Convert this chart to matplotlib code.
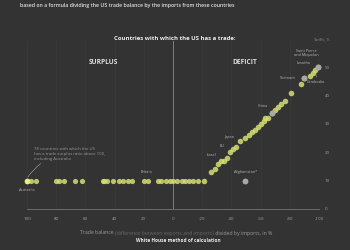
import matplotlib
matplotlib.use("Agg")
import matplotlib.pyplot as plt

plt.rcParams['font.family'] = ['Open Sans', 'DejaVu Sans']

# trade balance / imports (%) -> tariff (%)
surplus_x = [100, 97, 94, 80, 78, 75, 67, 62, 48, 47, 45, 41, 37, 34, 31, 28,
             20, 17, 10, 8, 5, 2, 0, -3, -6, -8, -11, -14, -17]
surplus_t = [10] * len(surplus_x)

deficit_x = [-21, -26, -29, -31, -33, -35, -37, -39, -41, -43, -46, -49, -52,
             -54, -56, -58, -60, -62, -63, -65, -68, -70, -72, -74, -77, -81,
             -88, -90, -94, -96, -97, -99]
deficit_t = [10, 13, 14, 16, 17, 17, 18, 20, 21, 22, 24, 25, 26,
             27, 28, 29, 30, 31, 32, 32, 34, 35, 36, 37, 38, 41,
             44, 46, 47, 48, 49, 50]

labels = ['Australia', 'Britain', 'Israel', 'EU', 'Japan', 'China', 'Vietnam',
          'Cambodia', 'Lesotho', 'Saint Pierre\nand Miquelon', 'Afghanistan*']
label_x = [100, 17, -35, -39, -46, -68, -90, -97, -99, -99, -49]
label_t = [10, 10, 17, 20, 24, 34, 46, 49, 50, 50, 10]

x_ticks = [100, 80, 60, 40, 20, 0, -20, -40, -60, -80, -100]
y_ticks = [0, 10, 20, 30, 40, 50]

BG = '#333333'
DOT = '#d6df72'
GREY = '#a8a8a8'

fig = plt.figure(figsize=(3.5, 2.5), dpi=100, facecolor=BG)
ax = fig.add_axes([27 / 350, 1 - 209 / 250, 292 / 350, 168 / 250])
ax.set_facecolor(BG)
ax.set_xlim(100, -100)
ax.set_ylim(0, 59.2)

for s in ['top', 'left', 'right']:
    ax.spines[s].set_visible(False)
ax.spines['bottom'].set_color('#777777')
ax.spines['bottom'].set_linewidth(0.6)

for xv in x_ticks:
    ax.axvline(xv, color='#3b3b3b', lw=0.5, zorder=0)
ax.axvline(0, color='#8a8a8a', lw=0.6, zorder=1)

ax.set_xticks(x_ticks)
ax.set_xticklabels([str(v) for v in x_ticks])
ax.set_yticks(y_ticks)
ax.yaxis.tick_right()
ax.tick_params(axis='x', length=0, pad=6, labelsize=3.2, labelcolor='#a0a0a0')
ax.tick_params(axis='y', length=0, pad=4, labelsize=3.2, labelcolor='#a0a0a0')

ax.scatter(surplus_x, surplus_t, s=14, color=DOT, alpha=0.85, lw=0,
           clip_on=False, zorder=3)
ax.scatter(deficit_x, deficit_t, s=16, color=DOT, alpha=0.85, lw=0,
           clip_on=False, zorder=3)
# highlighted
grey_names = ['China', 'Vietnam', 'Afghanistan*', 'Lesotho']
for name, xv, tv in zip(labels, label_x, label_t):
    if name in grey_names:
        ax.scatter([xv], [tv], s=18, color=GREY, lw=0, clip_on=False, zorder=4)
ax.scatter([100], [10], s=17, color='#e8f07a', lw=0, clip_on=False, zorder=4)

offsets = {
    'Australia': (0, -5, 'center', 'top'),
    'Britain': (-1, 5, 'center', 'bottom'),
    'Israel': (-9, 3, 'center', 'bottom'),
    'EU': (-6, 3, 'center', 'bottom'),
    'Japan': (-8, 1.5, 'center', 'bottom'),
    'China': (-7, 3, 'center', 'bottom'),
    'Vietnam': (-7, 0, 'right', 'center'),
    'Cambodia': (1, -7, 'center', 'top'),
    'Lesotho': (-10, 3, 'center', 'center'),
    'Saint Pierre\nand Miquelon': (-8, 10, 'center', 'center'),
    'Afghanistan*': (1, 5, 'center', 'bottom'),
}
for name, xv, tv in zip(labels, label_x, label_t):
    dx, dy, ha, va = offsets[name]
    ax.annotate(name, (xv, tv), xytext=(dx, dy), textcoords='offset points',
                ha=ha, va=va, fontsize=2.7, color='#bbbbbb', linespacing=1.0,
                annotation_clip=False, zorder=5)

# leader lines
ax.annotate('', xy=(-97.5, 48.5), xytext=(-98.5, 45.5),
            arrowprops=dict(arrowstyle='-', color='#999999', lw=0.4),
            annotation_clip=False)
ax.annotate('', xy=(-99.5, 51.5), xytext=(-99.5, 53.5),
            arrowprops=dict(arrowstyle='-', color='#999999', lw=0.4),
            annotation_clip=False)

ax.annotate('78 countries with which the US\nhas a trade surplus ratio above 100,\nincluding Australia',
            xy=(99.5, 11.2), xytext=(95, 17), ha='left', va='bottom',
            fontsize=3.1, color='#999999', linespacing=1.25,
            arrowprops=dict(arrowstyle='-', color='#aaaaaa', lw=0.4,
                            connectionstyle='arc3,rad=0.25',
                            shrinkA=0, shrinkB=0),
            annotation_clip=False)

ax.text(48, 51.5, 'SURPLUS', ha='center', va='center',
        fontsize=4.8, fontweight='bold', color='#dddddd')
ax.text(-49, 51.5, 'DEFICIT', ha='center', va='center',
        fontsize=4.8, fontweight='bold', color='#dddddd')

fig.text(175 / 350, 1 - 39 / 250, 'Countries with which the US has a trade:',
         ha='center', va='center', fontsize=4.3, fontweight='bold', color='#eeeeee')
fig.text(330 / 350, 1 - 39 / 250, 'Tariffs, %', ha='right', va='center',
         fontsize=2.9, color='#888888')

# first line sits mostly above the top edge, as in the source crop
fig.text(20 / 350, 1 + 2 / 250, 'The United States is applying a baseline 10% tariff, with the highest levels on 60 countries',
         ha='left', va='center', fontsize=3.8, color='#dddddd', fontweight='semibold')
fig.text(20 / 350, 1 - 6 / 250, 'based on a formula dividing the US trade balance by the imports from these countries',
         ha='left', va='center', fontsize=3.8, color='#dddddd', fontweight='semibold')

t1 = fig.text(80 / 350, 1 - 233 / 250, 'Trade balance ', ha='left', va='center',
              fontsize=3.7, color='#9a9a9a')
a2 = ax.annotate('(difference between exports and imports)', xy=(1, 0.5),
                 xycoords=t1, ha='left', va='center', fontsize=3.7, color='#666666')
ax.annotate(' divided by imports, in %', xy=(1, 0.5), xycoords=a2,
            ha='left', va='center', fontsize=3.7, color='#9a9a9a')
fig.text(178 / 350, 1 - 241 / 250, 'White House method of calculation',
         ha='center', va='center', fontsize=3.4, fontweight='bold', color='#eeeeee')

fig.savefig('out.png', dpi=100, facecolor=BG)
